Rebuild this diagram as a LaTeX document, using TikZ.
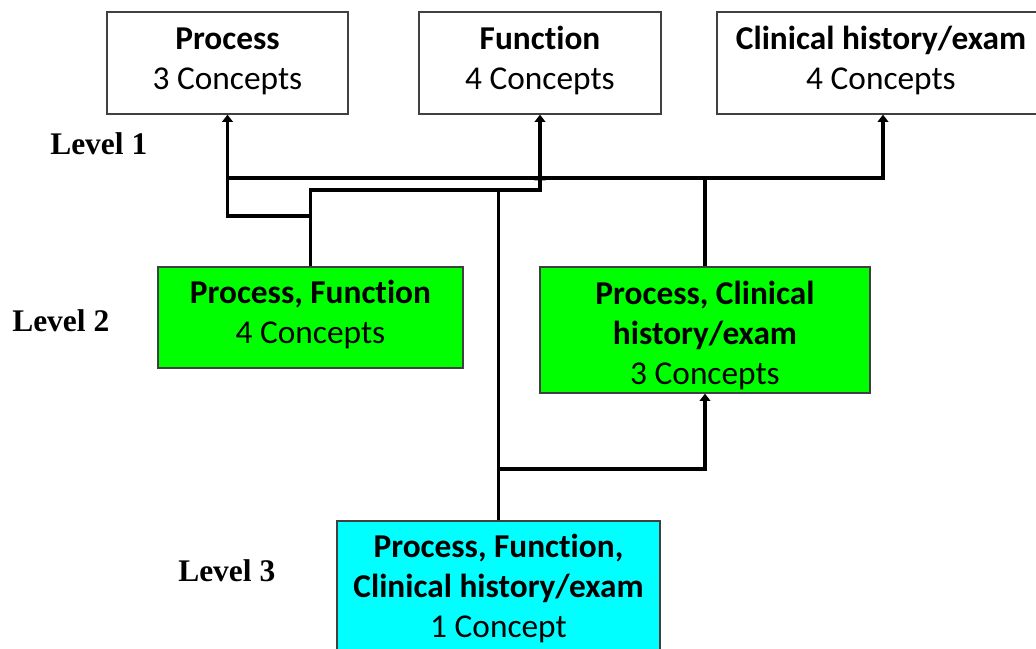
\documentclass[tikz,border=0pt]{standalone}
\usepackage{fontspec}
\setmainfont{Carlito}[Ligatures=NoCommon]
\newfontfamily\labelfont{Liberation Serif}
\usetikzlibrary{arrows.meta}
\definecolor{boxgreen}{RGB}{0,255,0}
\definecolor{boxcyan}{RGB}{0,255,255}

\begin{document}
\begin{tikzpicture}[x=0.75pt,y=-0.75pt,
  concept/.style={draw=black!75, line width=0.9pt, rectangle, align=center,
    inner sep=0pt, text depth=4pt, font=\fontsize{25}{30}\selectfont},
  lvl/.style={font=\labelfont\bfseries\fontsize{23.6}{28}\selectfont,
    inner sep=0pt, anchor=base west},
  link/.style={line width=2.3pt},
  tip/.style={link, -{Triangle[length=5.5pt,width=8pt]}}
]
\useasboundingbox (0,0) rectangle (1036,649);

% level 1 concepts
\node[concept, text height=44.5pt, minimum width=180.75pt, minimum height=76.5pt] (P1) at (227.5,63)
  {\textbf{Process}\\3 Concepts};
\node[concept, text height=44.5pt, minimum width=181.5pt, minimum height=76.5pt] (F1) at (540,63)
  {\textbf{Function}\\4 Concepts};
\node[concept, text height=44.5pt, minimum width=246pt, minimum height=76.5pt] (C1) at (881,63)
  {\textbf{Clinical history/exam}\\4 Concepts};

% level 2 concepts
\node[concept, fill=boxgreen, text height=43.75pt, minimum width=228.75pt, minimum height=75.75pt] (PF2) at (310.5,317.5)
  {\textbf{Process, Function}\\4 Concepts};
\node[concept, fill=boxgreen, text height=85pt, minimum width=247.5pt, minimum height=94.5pt] (PC2) at (705,330)
  {\textbf{Process, Clinical}\\\textbf{history/exam}\\3 Concepts};

% level 3 concept
\node[concept, fill=boxcyan, text height=71.5pt, minimum width=242.25pt, minimum height=106.5pt] (L3) at (498.5,592)
  {\textbf{Process, Function,}\\\textbf{Clinical history/exam}\\1 Concept};

% level labels
\node[lvl] (lv1) at (50,155) {Level 1};
\node[lvl] (lv2) at (12,331) {Level 2};
\node[lvl] (lv3) at (178,581) {Level 3};

% heights of the horizontal runs
\coordinate (busTop) at (0,178);
\coordinate (busLow) at (0,190);
\coordinate (busMid) at (0,216);
\coordinate (busL3) at (0,469);
\coordinate (tipEnd) at (0,173);

% links
\draw[tip] (PF2.north) |- (F1.south |- busLow) -- (F1.south |- tipEnd);
\draw[tip] (PF2.north |- busMid) -| (P1.south);
\draw[tip] (PC2.north) -- (PC2.north |- busTop) -| ([xshift=1.5pt]C1.south);
\draw[link] (PC2.north |- busTop) -- (P1.south |- busTop);
\draw[tip] (F1.south |- busTop) -- (F1.south);
\draw[link] (L3.north) -- (L3.north |- busLow);
\draw[tip] (L3.north |- busL3) -| (PC2.south);
\end{tikzpicture}
\end{document}
